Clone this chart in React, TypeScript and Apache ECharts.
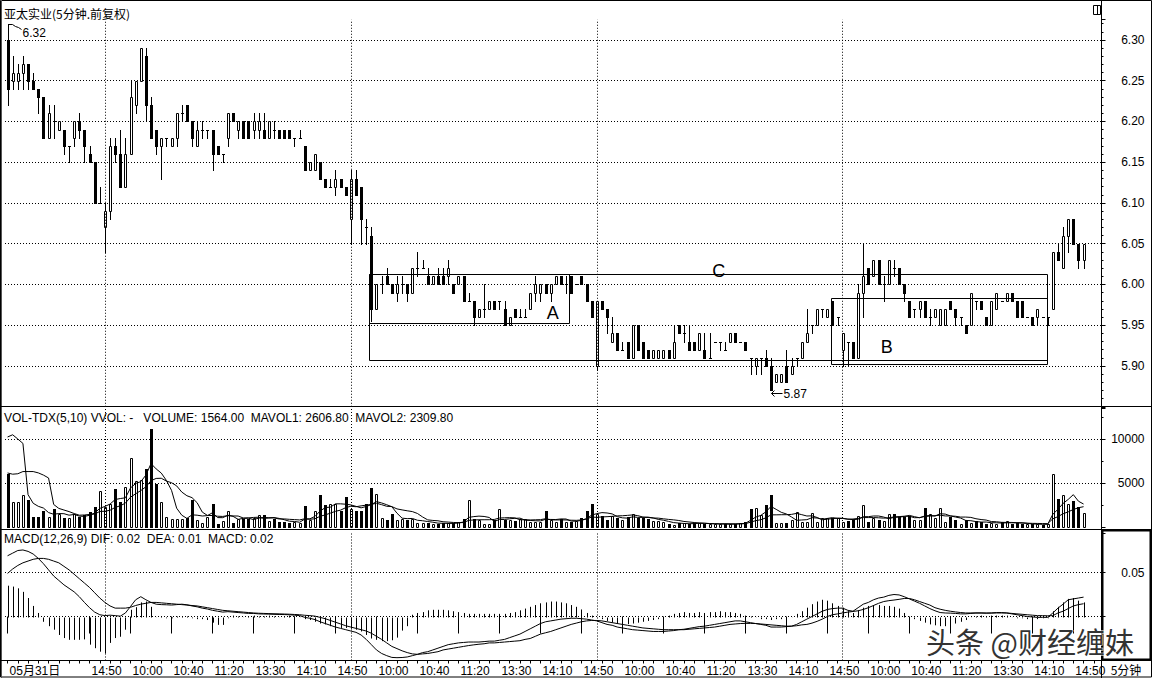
import React, { useEffect, useRef } from 'react';
import * as echarts from 'echarts';

const FONT = "'Liberation Sans', Arial, 'Noto Sans CJK SC', sans-serif";
const NARROW = "'Liberation Sans Narrow', 'Arial Narrow', 'Liberation Sans', 'Noto Sans CJK SC', sans-serif";
const CJK = "'Noto Sans CJK SC', 'Liberation Sans', sans-serif";

// [open, close, low, high] for each 5-minute bar
const kline: number[][] = [
  // 05-31 (partial day)
  [6.30,6.24,6.22,6.32],[6.25,6.26,6.24,6.28],[6.25,6.26,6.24,6.27],[6.26,6.27,6.24,6.28],[6.27,6.25,6.24,6.27],
  [6.25,6.24,6.24,6.26],[6.24,6.23,6.21,6.24],[6.23,6.18,6.18,6.23],[6.18,6.21,6.18,6.22],[6.20,6.20,6.18,6.22],
  [6.19,6.20,6.19,6.20],[6.19,6.17,6.16,6.19],[6.17,6.17,6.15,6.17],[6.18,6.20,6.17,6.20],[6.20,6.19,6.18,6.21],
  [6.19,6.17,6.15,6.19],[6.16,6.15,6.15,6.17],[6.15,6.10,6.10,6.15],[6.10,6.10,6.10,6.12],
  // day 2
  [6.07,6.09,6.04,6.10],[6.09,6.17,6.08,6.18],[6.17,6.16,6.15,6.18],[6.16,6.12,6.12,6.19],[6.12,6.16,6.12,6.18],
  [6.16,6.23,6.16,6.25],[6.22,6.25,6.21,6.25],[6.25,6.29,6.25,6.29],[6.28,6.22,6.20,6.29],[6.22,6.18,6.18,6.23],
  [6.19,6.17,6.16,6.19],[6.17,6.18,6.13,6.18],[6.18,6.18,6.17,6.18],[6.17,6.18,6.17,6.18],[6.18,6.21,6.17,6.21],
  [6.21,6.21,6.20,6.22],[6.22,6.20,6.20,6.22],[6.20,6.18,6.17,6.20],[6.17,6.19,6.17,6.20],[6.19,6.19,6.18,6.20],
  [6.19,6.19,6.18,6.19],[6.19,6.16,6.14,6.19],[6.17,6.16,6.16,6.17],[6.16,6.16,6.15,6.16],[6.18,6.21,6.17,6.21],
  [6.21,6.20,6.20,6.21],[6.19,6.20,6.18,6.20],[6.20,6.18,6.18,6.20],[6.20,6.18,6.18,6.20],[6.19,6.20,6.18,6.21],
  [6.19,6.20,6.18,6.21],[6.19,6.18,6.18,6.21],[6.18,6.20,6.18,6.20],[6.19,6.19,6.18,6.20],[6.19,6.18,6.18,6.19],
  [6.19,6.18,6.18,6.19],[6.19,6.18,6.18,6.19],[6.18,6.18,6.17,6.18],[6.18,6.18,6.18,6.19],[6.17,6.14,6.14,6.17],
  [6.14,6.15,6.14,6.15],[6.14,6.16,6.14,6.16],[6.15,6.13,6.13,6.15],[6.13,6.12,6.12,6.13],[6.12,6.12,6.12,6.13],
  [6.12,6.13,6.11,6.14],[6.13,6.12,6.12,6.13],[6.12,6.11,6.11,6.12],
  // day 3
  [6.08,6.13,6.05,6.14],[6.13,6.11,6.11,6.14],[6.12,6.08,6.05,6.12],[6.07,6.07,6.05,6.08],[6.06,5.97,5.955,6.07],
  [5.97,6.00,5.97,6.00],[6.00,6.00,5.99,6.01],[6.01,6.00,6.00,6.02],[6.00,5.99,5.99,6.00],[5.99,6.00,5.98,6.01],
  [6.00,6.00,5.99,6.01],[6.00,5.99,5.98,6.00],[5.99,6.02,5.99,6.02],[6.02,6.02,6.01,6.04],[6.02,6.02,6.02,6.03],
  [6.01,6.00,6.00,6.02],[6.00,6.01,6.00,6.01],[6.01,6.00,6.00,6.02],[6.01,6.00,6.00,6.02],[6.01,6.02,6.00,6.03],
  [6.00,5.99,5.99,6.00],[6.00,6.01,6.00,6.01],[6.01,5.98,5.98,6.01],[5.98,5.98,5.98,5.99],[5.98,5.96,5.95,5.98],
  [5.96,5.97,5.96,5.97],[5.97,5.97,5.96,6.00],[5.97,5.98,5.97,5.98],[5.98,5.97,5.97,5.98],[5.98,5.98,5.97,5.98],
  [5.97,5.95,5.95,5.98],[5.95,5.96,5.95,5.96],[5.97,5.96,5.96,5.97],[5.96,5.96,5.96,5.97],[5.96,5.96,5.96,5.97],
  [5.97,5.99,5.97,5.99],[5.99,6.00,5.98,6.01],[5.99,6.00,5.98,6.00],[6.00,5.99,5.99,6.00],[5.99,6.00,5.98,6.00],
  [6.00,6.01,6.00,6.01],[6.01,6.00,6.00,6.01],[6.00,6.00,5.99,6.01],[6.01,5.99,5.99,6.01],[6.00,6.00,6.00,6.00],
  [6.01,6.00,6.00,6.01],[6.00,5.98,5.98,6.00],[5.98,5.96,5.96,5.98],
  // day 4
  [5.90,5.98,5.895,5.98],[5.98,5.97,5.97,5.98],[5.97,5.96,5.94,5.97],[5.93,5.94,5.93,5.96],[5.94,5.92,5.92,5.94],
  [5.92,5.92,5.92,5.93],[5.93,5.91,5.91,5.93],[5.91,5.95,5.91,5.95],[5.95,5.92,5.92,5.95],[5.93,5.91,5.91,5.93],
  [5.92,5.91,5.91,5.92],[5.91,5.92,5.91,5.92],[5.91,5.92,5.91,5.92],[5.91,5.92,5.91,5.92],[5.92,5.91,5.91,5.92],
  [5.91,5.93,5.91,5.95],[5.95,5.94,5.94,5.95],[5.94,5.94,5.93,5.95],[5.93,5.92,5.92,5.95],[5.93,5.92,5.92,5.93],
  [5.92,5.94,5.92,5.94],[5.92,5.91,5.91,5.94],[5.91,5.91,5.91,5.94],[5.93,5.93,5.93,5.93],[5.93,5.93,5.92,5.93],
  [5.92,5.92,5.92,5.93],[5.93,5.94,5.93,5.94],[5.94,5.93,5.93,5.94],[5.93,5.93,5.93,5.93],[5.93,5.92,5.92,5.93],
  [5.91,5.91,5.89,5.91],[5.90,5.91,5.89,5.91],[5.91,5.91,5.89,5.91],[5.91,5.90,5.90,5.92],[5.90,5.87,5.87,5.91],
  [5.88,5.89,5.88,5.89],[5.88,5.89,5.88,5.89],[5.90,5.88,5.88,5.92],[5.89,5.90,5.89,5.91],[5.91,5.91,5.90,5.91],
  [5.91,5.93,5.91,5.93],[5.93,5.94,5.93,5.97],[5.95,5.95,5.94,5.95],[5.95,5.97,5.95,5.97],[5.97,5.97,5.96,5.97],
  [5.96,5.97,5.96,5.97],[5.98,5.95,5.95,5.98],[5.96,5.96,5.95,5.96],
  // day 5
  [5.92,5.94,5.90,5.94],[5.93,5.93,5.90,5.93],[5.93,5.91,5.91,5.93],[5.91,5.99,5.91,6.00],[5.99,6.01,5.96,6.05],
  [6.02,6.00,6.00,6.02],[6.01,6.03,6.01,6.03],[6.03,6.00,6.00,6.03],[6.00,6.00,5.98,6.01],[6.00,6.03,6.00,6.03],
  [6.02,6.02,6.01,6.03],[6.02,6.00,6.00,6.02],[6.00,5.99,5.98,6.00],[5.98,5.96,5.96,5.98],[5.97,5.97,5.96,5.97],
  [5.97,5.98,5.96,5.98],[5.98,5.96,5.96,5.98],[5.96,5.96,5.95,5.97],[5.96,5.97,5.96,5.97],[5.95,5.97,5.95,5.97],
  [5.95,5.97,5.95,5.97],[5.98,5.97,5.97,5.98],[5.97,5.96,5.95,5.97],[5.96,5.96,5.95,5.96],[5.95,5.94,5.94,5.95],
  [5.95,5.99,5.95,5.99],[5.98,5.98,5.97,5.98],[5.98,5.97,5.97,5.98],[5.96,5.95,5.95,5.96],[5.95,5.98,5.95,5.98],
  [5.97,5.99,5.97,5.99],[5.98,5.98,5.98,5.98],[5.98,5.99,5.98,5.99],[5.99,5.98,5.98,5.99],[5.98,5.96,5.96,5.98],
  [5.98,5.96,5.96,5.98],[5.96,5.96,5.96,5.96],[5.96,5.95,5.95,5.96],[5.96,5.97,5.95,5.97],[5.96,5.96,5.96,5.96],
  [5.96,5.96,5.95,5.96],[5.97,6.04,5.97,6.04],[6.04,6.03,6.03,6.05],[6.02,6.06,6.02,6.07],[6.06,6.08,6.04,6.08],
  [6.08,6.05,6.05,6.08],[6.05,6.03,6.02,6.05],[6.03,6.05,6.02,6.05],
];

const volumes: number[] = [
  5990,2840,2840,3680,3030,1100,1100,1860,1100,2080,1500,1020,1020,1500,1140,1330,1700,2270,4130,
  2270,2650,4280,2840,4550,7880,5190,5300,6560,11100,4850,2840,1100,950,950,870,1020,3110,760,490,
  1100,2650,340,720,1860,490,950,870,870,1020,1330,1330,720,950,570,570,490,570,490,2350,760,1860,
  3600,2460,2620,2620,1860,3380,
  2080,1780,1780,2650,4430,3790,1020,760,1520,760,950,760,870,490,490,490,380,340,420,420,490,570,
  950,3030,870,760,380,380,760,2000,760,760,650,870,870,570,570,570,1780,800,530,900,530,600,720,
  1000,1820,2620,
  1440,1290,800,1290,1060,760,1140,1520,980,1060,910,680,680,530,380,230,420,450,380,450,420,380,
  300,300,300,380,300,380,450,600,2050,2120,1360,2500,3640,420,420,420,800,1740,600,600,1550,600,
  1060,1060,1060,1060,
  600,680,800,1290,2500,600,1060,800,680,1520,1440,1170,1170,1290,800,800,2200,1440,980,2120,600,
  1170,800,380,800,420,680,530,380,420,380,530,680,380,420,300,300,340,300,280,314,5990,3180,3600,
  2600,3000,2270,1564,
];

const mavol1: number[] = [
  10230,10480,10000,9500,3676,2698,2350,2154,1638,1448,
  1528,1512,1344,1424,1236,1202,1338,1588,2114,2340,
  2604,3120,3234,3318,4440,4948,5152,5896,7206,6600,
  6130,5290,4168,2138,1342,978,1380,1342,1250,1296,
  1622,1068,1060,1334,1212,872,978,1008,840,1008,
  1084,1054,1070,980,828,660,630,538,894,932,
  1206,1812,2206,2260,2632,2632,2588,2512,2344,2176,
  2334,2544,2886,2734,2530,2304,1570,1002,950,972,
  766,712,620,544,438,424,410,410,448,570,
  1092,1182,1236,1198,1084,630,856,856,932,986,
  1008,782,744,706,690,872,858,850,916,908,
  672,656,750,934,1352,1520,1634,1594,1488,1176,
  1040,1010,1154,1092,1092,1122,1030,862,772,636,
  500,448,402,372,386,424,416,386,370,340,
  332,316,332,362,422,756,1120,1316,1726,2334,
  2008,1668,1480,1140,760,796,832,1058,1018,882,
  974,1066,968,968,892,840,886,1174,1174,1250,
  1250,1128,932,1100,1122,1196,1318,1174,1046,1252,
  1306,1244,1508,1468,1262,1134,1014,750,714,616,
  562,562,486,478,448,478,478,478,462,416,
  348,332,304,306.8,1444.8,2012.8,2672.8,3136.8,3674,2930,
  2606.8,
];

const mavol2: number[] = [
  6140,6000,6050,6300,6300,6300,6150,5900,5570,
  2562,2113,1931,1749,1531,1342,1365,1425,1466,1769,
  1788,1903,2229,2411,2716,3390,3776,4136,4565,5262,
  5520,5539,5221,5032,4672,3971,3554,3335,2755,1694,
  1319,1300,1224,1201,1292,1254,1247,1023,1034,1087,
  1110,978,1016,1039,910,918,872,842,804,937,
  880,933,1221,1372,1577,1782,1919,2200,2359,2302,
  2404,2483,2566,2699,2539,2353,2319,2057,1944,1842,
  1751,1535,1141,811,747,705,595,561,515,496,
  504,758,796,823,823,827,861,1019,1046,1065,
  1035,819,819,800,819,838,940,820,797,811,
  799,772,757,800,925,1130,1096,1145,1172,1211,
  1264,1280,1322,1374,1290,1134,1081,1020,1008,932,
  864,811,739,632,572,511,462,432,394,371,
  363,378,366,359,366,381,544,718,824,1044,
  1378,1382,1394,1398,1433,1547,1402,1250,1269,1079,
  821,885,949,1013,993,887,907,976,1071,1071,
  1071,1045,1007,1053,1137,1186,1223,1223,1053,1073,
  1187,1251,1281,1341,1257,1257,1220,1129,1129,1091,
  939,848,788,618,596,532,520,520,482,470,
  432,413,405,391,384.4,930.4,1180.4,1502.4,1720.4,1990.4,
  2187.4,2309.8,
];

const dif: number[] = [
  0.069,0.072,0.075,0.0756,0.074,0.071,0.066,0.060,0.053,0.046,
  0.041,0.036,0.032,0.028,0.0225,0.016,0.010,0.005,0.002,0.001,
  0.0015,0.001,0.0004,0.004,0.0114,0.019,0.0225,0.019,0.016,0.014,
  0.0135,0.0133,0.013,0.0135,0.014,0.0133,0.012,0.011,0.0095,0.0085,
  0.007,0.006,0.005,0.0055,0.005,0.0045,0.004,0.0035,0.0035,0.003,
  0.0028,0.0027,0.0025,0.0023,0.0022,0.002,0.0015,0.001,-0.001,-0.002,
  -0.0035,-0.006,-0.008,-0.010,-0.012,-0.0135,-0.015,-0.0165,-0.018,-0.021,
  -0.026,-0.032,-0.038,-0.042,-0.0445,-0.0465,-0.0468,-0.0466,-0.046,-0.0445,
  -0.043,-0.041,-0.040,-0.038,-0.036,-0.034,-0.032,-0.031,-0.030,-0.0295,
  -0.029,-0.029,-0.029,-0.0285,-0.028,-0.028,-0.027,-0.026,-0.024,-0.022,
  -0.020,-0.017,-0.014,-0.011,-0.008,-0.006,-0.005,-0.004,-0.003,-0.0025,
  -0.002,-0.002,-0.0025,-0.003,-0.004,-0.005,-0.007,-0.009,-0.010,-0.012,
  -0.013,-0.014,-0.015,-0.0155,-0.016,-0.0165,-0.017,-0.017,-0.017,-0.0165,
  -0.016,-0.015,-0.0145,-0.0135,-0.0125,-0.0115,-0.011,-0.010,-0.009,-0.008,
  -0.007,-0.006,-0.005,-0.005,-0.006,-0.007,-0.008,-0.009,-0.010,-0.012,
  -0.012,-0.012,-0.0115,-0.011,-0.009,-0.006,-0.003,0.000,0.003,0.006,
  0.008,0.009,0.0095,0.0095,0.007,0.006,0.010,0.014,0.016,0.019,
  0.021,0.022,0.024,0.025,0.0245,0.0225,0.020,0.0175,0.015,0.012,
  0.009,0.0065,0.0045,0.004,0.0038,0.0035,0.003,0.003,0.0035,0.004,
  0.004,0.0038,0.004,0.0045,0.0045,0.004,0.003,0.002,0.001,0.000,
  -0.0005,-0.001,-0.001,-0.001,0.004,0.0095,0.014,0.019,0.020,0.021,
  0.022,
];

const dea: number[] = [
  0.049,0.054,0.058,0.061,0.063,0.065,0.066,0.066,0.065,0.063,
  0.061,0.057,0.053,0.048,0.043,0.038,0.033,0.027,0.021,0.016,
  0.012,0.0095,0.0095,0.0095,0.0105,0.0125,0.014,0.015,0.016,0.016,
  0.0155,0.015,0.0145,0.014,0.0135,0.013,0.0125,0.012,0.011,0.010,
  0.009,0.008,0.007,0.0065,0.006,0.0055,0.005,0.0045,0.004,0.0037,
  0.0035,0.0033,0.0031,0.003,0.0028,0.0026,0.0023,0.002,0.0014,0.001,
  0.0004,-0.001,-0.0025,-0.0045,-0.0065,-0.0085,-0.0105,-0.012,-0.0135,-0.015,
  -0.0165,-0.019,-0.0225,-0.026,-0.030,-0.034,-0.0365,-0.039,-0.041,-0.0425,
  -0.043,-0.0425,-0.042,-0.041,-0.040,-0.038,-0.037,-0.036,-0.035,-0.034,
  -0.033,-0.0322,-0.0315,-0.031,-0.030,-0.030,-0.0295,-0.029,-0.0285,-0.028,
  -0.0275,-0.026,-0.025,-0.0225,-0.020,-0.0185,-0.017,-0.015,-0.013,-0.011,
  -0.009,-0.0075,-0.006,-0.005,-0.0045,-0.0045,-0.005,-0.006,-0.007,-0.008,
  -0.009,-0.010,-0.011,-0.012,-0.013,-0.0135,-0.014,-0.0145,-0.015,-0.015,
  -0.015,-0.015,-0.015,-0.0145,-0.014,-0.0135,-0.013,-0.0125,-0.012,-0.011,
  -0.010,-0.009,-0.0085,-0.008,-0.0078,-0.0078,-0.008,-0.0085,-0.009,-0.0095,
  -0.010,-0.0105,-0.011,-0.011,-0.0105,-0.0095,-0.009,-0.0075,-0.0055,-0.003,
  0.000,0.002,0.003,0.004,0.005,0.0057,0.0065,0.008,0.010,0.0125,
  0.015,0.017,0.018,0.0187,0.0195,0.0205,0.0205,0.019,0.017,0.015,
  0.013,0.010,0.0083,0.007,0.006,0.0052,0.0045,0.004,0.004,0.004,
  0.004,0.0039,0.0039,0.004,0.004,0.004,0.0035,0.003,0.0025,0.002,
  0.0015,0.001,0.001,0.0008,0.001,0.004,0.006,0.009,0.012,0.0135,
  0.0145,
];

const macd: number[] = [
  0.035,0.034,0.032,0.028,0.021,0.012,0.004,-0.006,-0.011,-0.015,
  -0.021,-0.0245,-0.0265,-0.0265,-0.0265,-0.026,-0.032,-0.036,-0.040,-0.042,
  -0.030,-0.0245,-0.023,-0.015,0.0076,0.0106,0.016,0.017,0.011,-0.001,
  0.000,-0.002,-0.002,0.000,0.000,0.000,-0.002,-0.003,-0.003,-0.004,
  -0.007,-0.0095,-0.0095,-0.002,0.001,0.000,-0.001,0.000,0.001,0.000,
  0.000,0.001,0.000,-0.001,0.000,0.001,0.000,-0.001,-0.003,-0.004,
  -0.006,-0.008,-0.009,-0.011,-0.012,-0.013,-0.013,-0.014,-0.015,-0.017,
  -0.021,-0.025,-0.0265,-0.028,-0.028,-0.027,-0.024,-0.016,-0.011,0.002,
  0.004,0.005,0.007,0.0076,0.0076,0.0076,0.007,0.006,0.005,0.004,
  0.003,0.003,0.003,0.003,0.003,0.003,0.003,0.003,0.004,0.005,
  0.007,0.009,0.011,0.013,0.015,0.016,0.017,0.017,0.016,0.015,
  0.013,0.011,0.008,0.004,0.001,-0.001,-0.003,-0.005,-0.007,-0.0085,
  -0.0087,-0.0087,-0.008,-0.007,-0.006,-0.005,-0.004,-0.003,-0.002,0.001,
  0.003,0.004,0.005,0.004,0.004,0.005,0.004,0.005,0.005,0.006,
  0.005,0.005,0.004,0.003,0.001,0.000,-0.001,-0.003,-0.003,-0.004,
  -0.003,-0.003,-0.002,-0.001,0.003,0.006,0.010,0.014,0.017,0.019,
  0.018,0.015,0.012,0.010,0.006,0.004,0.007,0.010,0.012,0.013,
  0.013,0.012,0.012,0.011,0.009,0.004,-0.001,-0.003,-0.005,-0.007,
  -0.009,-0.010,-0.011,-0.011,-0.010,-0.008,-0.006,-0.004,-0.001,0.000,
  0.001,0.000,0.001,0.001,0.001,0.001,-0.001,-0.002,-0.002,-0.003,
  -0.003,-0.003,-0.002,-0.002,0.006,0.011,0.016,0.020,0.021,0.018,
  0.016,
];

// x-axis tick labels (bar index -> text)
const tickIndex = [0, 16, 24, 32, 40, 48, 56, 64, 72, 80, 88, 96, 104, 112, 120, 128, 136, 144, 152, 160, 168, 176, 184, 192, 200, 208];
const tickLabels = ['05月31日', '14:50',
  '10:00', '10:40', '11:20', '13:30', '14:10', '14:50',
  '10:00', '10:40', '11:20', '13:30', '14:10', '14:50',
  '10:00', '10:40', '11:20', '13:30', '14:10', '14:50',
  '10:00', '10:40', '11:20', '13:30', '14:10', '14:50'];
const dayStarts = [19, 67, 115, 163];

// annotation boxes in (bar index, price) coordinates
const boxes = [
  { name: 'C', x0: 70.6, x1: 202.9, top: 6.013, bottom: 5.907, lx: 138.8, ly: 6.0166 },
  { name: 'A', x0: 70.6, x1: 109.6, top: 6.013, bottom: 5.953, lx: 106.4, ly: 5.965 },
  { name: 'B', x0: 160.7, x1: 202.9, top: 5.984, bottom: 5.903, lx: 171.6, ly: 5.9233 },
];
const extremes = [
  { i: 0, price: 6.32, text: '6.32', kind: 'high' },
  { i: 149, price: 5.87, text: '5.87', kind: 'low' },
];

const SLOTS = 214; // 211 bars plus empty right margin
const categories = Array.from({ length: SLOTS }, (_, i) => String(i));
const labelAt = new Map<number, string>(tickIndex.map((t, k) => [t, tickLabels[k]]));

const GRID_LEFT = 5;
const GRID_W = 1096.5;

function buildOption(): any {
  const dotted = { color: '#000', type: [1, 2], width: 1 };
  const dayLines = {
    silent: true,
    symbol: ['none', 'none'],
    label: { show: false },
    lineStyle: dotted,
    emphasis: { disabled: true },
    animation: false,
    data: dayStarts.map((i) => ({ xAxis: i })),
  };
  const hiddenX = (gridIndex: number) => ({
    type: 'category', gridIndex, data: categories, boundaryGap: true,
    axisLine: { show: false }, axisTick: { show: false }, axisLabel: { show: false }, splitLine: { show: false },
  });
  const yLabel = { color: '#000', fontSize: 12, fontFamily: FONT, align: 'right', margin: 43 };
  const last = kline.length - 1;

  return {
    animation: false,
    backgroundColor: '#fff',
    textStyle: { fontFamily: FONT },
    grid: [
      { left: GRID_LEFT, top: 19.6, width: GRID_W, height: 387.15 },
      { left: GRID_LEFT, top: 408.2, width: GRID_W, height: 118.8 },
      { left: GRID_LEFT, top: 532.9, width: GRID_W, height: 127.6 },
    ],
    xAxis: [
      hiddenX(0),
      hiddenX(1),
      {
        type: 'category', gridIndex: 2, data: categories, boundaryGap: true, position: 'bottom',
        axisLine: { show: false },
        axisTick: { show: true, interval: (i: number) => labelAt.has(i), alignWithLabel: true, length: 17, lineStyle: { color: '#000' } },
        axisLabel: {
          show: true, interval: (i: number) => labelAt.has(i),
          formatter: (_v: string, i: number) => labelAt.get(i) ?? '',
          align: 'left', margin: 4, padding: [0, 0, 0, 2], color: '#000', fontSize: 12, fontFamily: NARROW,
        },
        splitLine: { show: false },
      },
      {
        type: 'category', gridIndex: 2, data: categories, boundaryGap: true, position: 'bottom',
        axisLine: { show: false },
        axisTick: { show: true, interval: (i: number) => i % 2 === 0, alignWithLabel: true, length: 3, lineStyle: { color: '#000' } },
        axisLabel: { show: false }, splitLine: { show: false },
      },
    ],
    yAxis: [
      {
        type: 'value', gridIndex: 0, position: 'right', min: 5.85, max: 6.325, interval: 0.05,
        axisLine: { show: false },
        axisTick: { show: true, length: 4, lineStyle: { color: '#000' } },
        minorTick: { show: true, splitNumber: 5, length: 2, lineStyle: { color: '#000' } },
        axisLabel: { ...yLabel, showMinLabel: false, showMaxLabel: false, formatter: (v: number) => v.toFixed(2) },
        splitLine: { show: true, showMinLine: false, showMaxLine: false, lineStyle: dotted },
      },
      {
        type: 'value', gridIndex: 1, position: 'right', min: 0, max: 13500, interval: 5000,
        axisLine: { show: false },
        axisTick: { show: true, length: 4, lineStyle: { color: '#000' } },
        minorTick: { show: true, splitNumber: 2, length: 2, lineStyle: { color: '#000' } },
        axisLabel: { ...yLabel, formatter: (v: number) => (v === 5000 || v === 10000 ? String(v) : '') },
        splitLine: { show: true, showMinLine: false, showMaxLine: false, lineStyle: dotted },
      },
      {
        type: 'value', gridIndex: 2, position: 'right', min: -0.05, max: 0.095, interval: 0.05,
        axisLine: { show: false },
        axisTick: { show: true, length: 4, lineStyle: { color: '#000' } },
        axisLabel: { ...yLabel, formatter: (v: number) => (Math.abs(v - 0.05) < 1e-9 ? '0.05' : '') },
        splitLine: { show: true, showMinLine: false, showMaxLine: false, lineStyle: dotted },
      },
    ],
    series: [
      {
        // candles, pixel-aligned through the axis scales
        type: 'custom', xAxisIndex: 0, yAxisIndex: 0, silent: true, z: 4,
        data: kline.map((k, i) => [i, k[0], k[1], k[2], k[3]]),
        encode: { x: 0, y: [1, 2, 3, 4] },
        renderItem: (_params: any, api: any) => {
          const i = api.value(0);
          const o = api.value(1), c = api.value(2), l = api.value(3), h = api.value(4);
          const cx = Math.round(api.coord([i, o])[0]);
          const yo = Math.round(api.coord([i, o])[1]);
          const yc = Math.round(api.coord([i, c])[1]);
          const yl = Math.round(api.coord([i, l])[1]);
          const yh = Math.round(api.coord([i, h])[1]);
          const top = Math.min(yo, yc), bot = Math.max(yo, yc);
          const children: any[] = [
            { type: 'line', shape: { x1: cx + 0.5, y1: yh, x2: cx + 0.5, y2: yl + 1 }, style: { stroke: '#000', lineWidth: 1 } },
          ];
          if (top === bot) {
            children.push({ type: 'line', shape: { x1: cx - 1, y1: top + 0.5, x2: cx + 2, y2: top + 0.5 }, style: { stroke: '#000', lineWidth: 1 } });
          } else if (c > o) {
            children.push({ type: 'rect', shape: { x: cx - 0.5, y: top + 0.5, width: 2, height: bot - top }, style: { fill: '#fff', stroke: '#000', lineWidth: 1 } });
          } else {
            children.push({ type: 'rect', shape: { x: cx - 1, y: top, width: 3, height: bot - top + 1 }, style: { fill: '#000' } });
          }
          return { type: 'group', children };
        },
        markLine: dayLines,
      },
      {
        type: 'custom', xAxisIndex: 0, yAxisIndex: 0, silent: true, z: 5,
        data: boxes.map((b) => [Math.floor(b.x0), b.top]),
        renderItem: (params: any, api: any) => {
          const b = boxes[params.dataIndex];
          const band = api.coord([1, b.top])[0] - api.coord([0, b.top])[0];
          const xAt = (v: number) => api.coord([Math.floor(v), b.top])[0] + (v - Math.floor(v)) * band;
          const yAt = (p: number) => api.coord([0, p])[1];
          const x0 = Math.round(xAt(b.x0)) + 0.5;
          const x1 = Math.round(xAt(b.x1)) + 0.5;
          const y0 = Math.round(yAt(b.top)) + 0.5;
          const y1 = Math.round(yAt(b.bottom)) + 0.5;
          return {
            type: 'group',
            children: [
              { type: 'rect', shape: { x: x0, y: y0, width: x1 - x0, height: y1 - y0 }, style: { fill: 'none', stroke: '#000', lineWidth: 1 } },
              {
                type: 'text', x: xAt(b.lx), y: yAt(b.ly),
                style: { text: b.name, fill: '#000', font: `18px ${FONT}`, align: 'center', verticalAlign: 'middle', textAlign: 'center', textVerticalAlign: 'middle' },
              },
            ],
          };
        },
      },
      {
        type: 'custom', xAxisIndex: 0, yAxisIndex: 0, silent: true, z: 5,
        data: extremes.map((e) => [e.i, e.price]),
        renderItem: (params: any, api: any) => {
          const e = extremes[params.dataIndex];
          const p = api.coord([e.i, e.price]);
          const x = Math.round(p[0]) + 0.5;
          const y = Math.round(p[1]) + 0.5;
          const txt = (tx: number, ty: number) => ({
            type: 'text', x: tx, y: ty,
            style: { text: e.text, fill: '#000', font: `12px ${FONT}`, align: 'left', verticalAlign: 'middle', textAlign: 'left', textVerticalAlign: 'middle' },
          });
          if (e.kind === 'high') {
            return {
              type: 'group',
              children: [
                { type: 'polyline', shape: { points: [[x, y], [x + 4, y], [x + 7, y + 2], [x + 10, y + 3], [x + 13, y + 5]] }, style: { fill: 'none', stroke: '#000', lineWidth: 1 } },
                txt(x + 14, y + 8),
              ],
            };
          }
          const ay = y + 3;
          return {
            type: 'group',
            children: [
              { type: 'line', shape: { x1: x, y1: ay, x2: x + 11, y2: ay }, style: { stroke: '#000', lineWidth: 1 } },
              { type: 'polyline', shape: { points: [[x + 3, ay - 3], [x, ay], [x + 3, ay + 3]] }, style: { fill: 'none', stroke: '#000', lineWidth: 1 } },
              txt(x + 12, ay),
            ],
          };
        },
      },
      {
        // volume bars: hollow when the candle closes up, filled when it closes down
        type: 'custom', xAxisIndex: 1, yAxisIndex: 1, silent: true, z: 2,
        data: volumes.map((v, i) => [i, v, kline[i][1] > kline[i][0] || (kline[i][1] === kline[i][0] && i > 0 && kline[i][1] >= kline[i - 1][1]) ? 1 : 0]),
        renderItem: (_params: any, api: any) => {
          const i = api.value(0);
          const v = api.value(1);
          const up = api.value(2) === 1;
          const cx = Math.round(api.coord([i, 0])[0]);
          const base = Math.round(api.coord([i, 0])[1]);
          const top = Math.round(api.coord([i, v])[1]);
          if (up) {
            return { type: 'rect', shape: { x: cx - 0.5, y: top + 0.5, width: 2, height: base - top }, style: { fill: '#fff', stroke: '#000', lineWidth: 1 } };
          }
          return { type: 'rect', shape: { x: cx - 1, y: top, width: 3, height: base - top + 1 }, style: { fill: '#000' } };
        },
      },
      {
        type: 'line', xAxisIndex: 1, yAxisIndex: 1, data: mavol1, symbol: 'none', silent: true,
        lineStyle: { color: '#000', width: 1 }, z: 3, markLine: dayLines,
      },
      {
        type: 'line', xAxisIndex: 1, yAxisIndex: 1, data: mavol2, symbol: 'none', silent: true,
        lineStyle: { color: '#000', width: 1 }, z: 3,
      },
      {
        type: 'custom', xAxisIndex: 2, yAxisIndex: 2, silent: true,
        data: macd.map((v, i) => [i, v]),
        renderItem: (_params: any, api: any) => {
          const i = api.value(0);
          const v = api.value(1);
          const p0 = api.coord([i, 0]);
          const p1 = api.coord([i, v]);
          const x = Math.round(p0[0]) + 0.5;
          return { type: 'line', shape: { x1: x, y1: Math.round(p0[1]) + 0.5, x2: x, y2: p1[1] }, style: { stroke: '#000', lineWidth: 1 } };
        },
      },
      {
        type: 'line', xAxisIndex: 2, yAxisIndex: 2, data: dif, symbol: 'none', silent: true,
        lineStyle: { color: '#000', width: 1 }, z: 3, markLine: dayLines,
      },
      {
        type: 'line', xAxisIndex: 2, yAxisIndex: 2, data: dea, symbol: 'none', silent: true,
        lineStyle: { color: '#000', width: 1 }, z: 3,
      },
    ],
    graphic: [
      { type: 'rect', silent: true, z: 50, shape: { x: 0.5, y: 0.5, width: 1151, height: 676.5 }, style: { fill: 'none', stroke: '#000', lineWidth: 1 } },
      { type: 'line', silent: true, z: 50, shape: { x1: 1.5, y1: 0, x2: 1.5, y2: 678 }, style: { stroke: '#555', lineWidth: 1 } },
      { type: 'line', silent: true, z: 50, shape: { x1: 0, y1: 406.5, x2: 1152, y2: 406.5 }, style: { stroke: '#000', lineWidth: 1 } },
      { type: 'line', silent: true, z: 50, shape: { x1: 0, y1: 529.5, x2: 1152, y2: 529.5 }, style: { stroke: '#000', lineWidth: 1 } },
      { type: 'line', silent: true, z: 50, shape: { x1: 0, y1: 660.5, x2: 1152, y2: 660.5 }, style: { stroke: '#000', lineWidth: 1 } },
      { type: 'line', silent: true, z: 50, shape: { x1: 1101.5, y1: 0, x2: 1101.5, y2: 678 }, style: { stroke: '#000', lineWidth: 1 } },
      { type: 'rect', silent: true, z: 50, shape: { x: 1102.5, y: 530.5, width: 48, height: 129 }, style: { fill: 'none', stroke: '#000', lineWidth: 2 } },
      { type: 'rect', silent: true, z: 50, shape: { x: 1093.5, y: 5.5, width: 7, height: 9 }, style: { fill: '#fff', stroke: '#000', lineWidth: 1 } },
      { type: 'line', silent: true, z: 50, shape: { x1: 1097.5, y1: 5.5, x2: 1097.5, y2: 14.5 }, style: { stroke: '#000', lineWidth: 1 } },
      {
        type: 'text', silent: true, z: 50, x: 4, y: 13,
        style: { text: '亚太实业(5分钟.前复权)', fill: '#000', font: `12px ${CJK}`, align: 'left', verticalAlign: 'middle', textAlign: 'left', textVerticalAlign: 'middle' },
      },
      {
        type: 'text', silent: true, z: 50, x: 4, y: 417.5,
        style: {
          text: `VOL-TDX(5,10) VVOL: -   VOLUME: ${volumes[last].toFixed(2)}  MAVOL1: ${mavol1[last].toFixed(2)}  MAVOL2: ${mavol2[last].toFixed(2)}`,
          fill: '#000', font: `12px ${FONT}`, align: 'left', verticalAlign: 'middle', textAlign: 'left', textVerticalAlign: 'middle',
        },
      },
      {
        type: 'text', silent: true, z: 50, x: 4, y: 539,
        style: {
          text: `MACD(12,26,9) DIF: ${dif[last].toFixed(2)}  DEA: ${dea[last].toFixed(2)}  MACD: ${macd[last].toFixed(2)}`,
          fill: '#000', font: `12px ${FONT}`, align: 'left', verticalAlign: 'middle', textAlign: 'left', textVerticalAlign: 'middle',
        },
      },
      {
        type: 'text', silent: true, z: 50, x: 1126, y: 669.5,
        style: { text: '5分钟', fill: '#000', font: `12px ${CJK}`, align: 'center', verticalAlign: 'middle', textAlign: 'center', textVerticalAlign: 'middle' },
      },
      {
        type: 'text', silent: true, z: 60, x: 926, y: 641,
        style: { text: '头条 @财经缠妹', fill: '#333', stroke: '#fff', lineWidth: 1, font: `29px ${CJK}`, align: 'left', verticalAlign: 'middle', textAlign: 'left', textVerticalAlign: 'middle' },
      },
    ],
  };
}

export default function App() {
  const ref = useRef<HTMLDivElement>(null);
  useEffect(() => {
    if (!ref.current) return;
    const chart = echarts.init(ref.current, undefined, { renderer: 'svg' });
    chart.setOption(buildOption());
    return () => chart.dispose();
  }, []);
  return (
    <div
      ref={ref}
      style={{ position: 'absolute', left: 0, top: 0, width: 1153, height: 678, background: '#fff' }}
    />
  );
}
